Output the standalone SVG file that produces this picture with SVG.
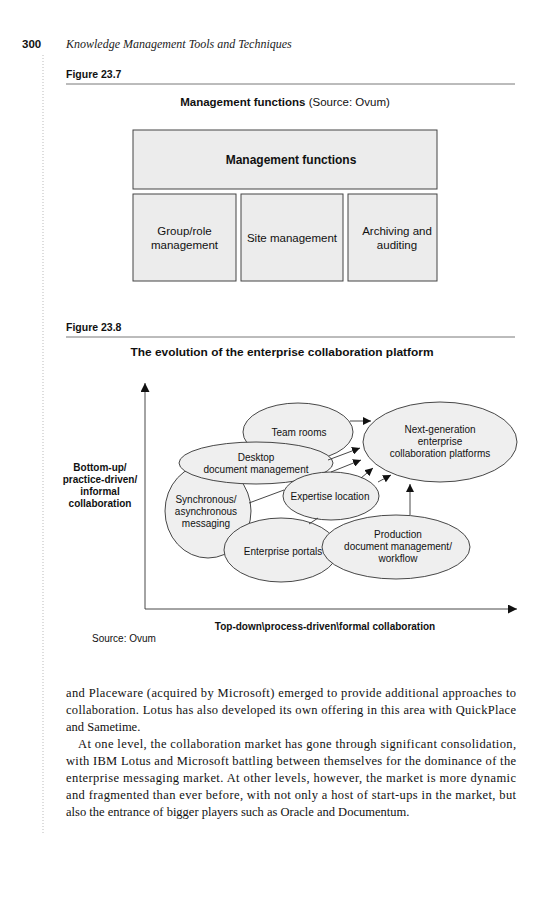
<svg xmlns="http://www.w3.org/2000/svg" width="552" height="900" viewBox="0 0 552 900">
<defs>
<style>
.s{font-family:"Liberation Sans",Arial,sans-serif;fill:#111}
.b{font-weight:bold}
.r{font-family:"Liberation Serif","Times New Roman",serif;fill:#111;font-size:12.5px}
.box{fill:#ececec;stroke:#444;stroke-width:1}
.el{fill:#efefef;stroke:#333;stroke-width:0.9}
.ln{stroke:#333;stroke-width:0.9;fill:none}
.c{text-anchor:middle}
</style>
<marker id="ah" viewBox="0 0 10 10" refX="10" refY="5" markerWidth="8" markerHeight="8" markerUnits="userSpaceOnUse" orient="auto">
<path d="M0,0 L10,5 L0,10 z" fill="#111"/>
</marker>
<marker id="ax" viewBox="0 0 10 10" refX="10" refY="5" markerWidth="9" markerHeight="9" markerUnits="userSpaceOnUse" orient="auto">
<path d="M0,0 L10,5 L0,10 z" fill="#111"/>
</marker>
</defs>
<rect width="552" height="900" fill="#fff"/>
<line x1="43" y1="55" x2="43" y2="835" stroke="#bbb" stroke-width="1" stroke-dasharray="1,2"/>
<text class="s b" x="22" y="48" font-size="11.5">300</text>
<text x="66" y="48" font-family="'Liberation Serif',serif" font-style="italic" font-size="12" fill="#222">Knowledge Management Tools and Techniques</text>

<text class="s b" x="66" y="78" font-size="10.5">Figure 23.7</text>
<line x1="66" y1="84" x2="515" y2="84" stroke="#555" stroke-width="0.8"/>
<text class="s c" x="285" y="106" font-size="11.5"><tspan class="b">Management functions</tspan> (Source: Ovum)</text>

<g id="mgmt">
<rect class="box" x="133" y="130" width="304" height="59"/>
<text class="s b c" x="291" y="164" font-size="12">Management functions</text>
</g>
<g id="group">
<rect class="box" x="133" y="194" width="103" height="87"/>
<text class="s c" x="184.5" y="235" font-size="11.5">Group/role</text>
<text class="s c" x="184.5" y="249" font-size="11.5">management</text>
</g>
<g id="site">
<rect class="box" x="241" y="194" width="102" height="87"/>
<text class="s c" x="292" y="242" font-size="11.5">Site management</text>
</g>
<g id="archive">
<rect class="box" x="348" y="194" width="89" height="87"/>
<text class="s c" x="397" y="235" font-size="11.5">Archiving and</text>
<text class="s c" x="397" y="249" font-size="11.5">auditing</text>
</g>

<text class="s b" x="66" y="331" font-size="10.5">Figure 23.8</text>
<line x1="66" y1="337" x2="515" y2="337" stroke="#555" stroke-width="0.8"/>
<text class="s b c" x="282" y="356" font-size="11" textLength="303" lengthAdjust="spacingAndGlyphs">The evolution of the enterprise collaboration platform</text>

<g id="axes">
<line class="ln" x1="145" y1="609" x2="145" y2="383" marker-end="url(#ax)"/>
<line class="ln" x1="145" y1="609" x2="517" y2="609" marker-end="url(#ax)"/>
</g>
<g id="ylabel">
<text class="s b c" x="100" y="471" font-size="10">Bottom-up/</text>
<text class="s b c" x="100" y="483" font-size="10">practice-driven/</text>
<text class="s b c" x="100" y="495" font-size="10">informal</text>
<text class="s b c" x="100" y="507" font-size="10">collaboration</text>
</g>
<text class="s b c" x="325" y="630" font-size="10">Top-down\process-driven\formal collaboration</text>

<g id="teamrooms">
<ellipse class="el" cx="298" cy="432" rx="55" ry="29"/>
<text class="s c" x="299" y="436" font-size="10">Team rooms</text>
</g>
<g id="nextgen">
<ellipse class="el" cx="440" cy="442" rx="77" ry="40" fill="#e6e6e6"/>
<text class="s c" x="440" y="433" font-size="10">Next-generation</text>
<text class="s c" x="440" y="445" font-size="10">enterprise</text>
<text class="s c" x="440" y="457" font-size="10">collaboration platforms</text>
</g>
<g id="sync">
<ellipse class="el" cx="208" cy="511" rx="43" ry="47"/>
<text class="s c" x="206" y="503" font-size="10">Synchronous/</text>
<text class="s c" x="206" y="515" font-size="10">asynchronous</text>
<text class="s c" x="206" y="527" font-size="10">messaging</text>
</g>
<g id="desktop">
<ellipse class="el" cx="256" cy="463" rx="77" ry="21"/>
<text class="s c" x="256" y="461" font-size="10">Desktop</text>
<text class="s c" x="256" y="473" font-size="10">document management</text>
</g>
<g id="expertise">
<ellipse class="el" cx="331" cy="496" rx="48" ry="24"/>
<text class="s c" x="330" y="500" font-size="10">Expertise location</text>
</g>
<g id="portals">
<ellipse class="el" cx="281" cy="550" rx="57" ry="32"/>
<text class="s c" x="283" y="555" font-size="10">Enterprise portals</text>
</g>
<g id="production">
<ellipse class="el" cx="396" cy="547" rx="74" ry="32"/>
<text class="s c" x="398" y="538" font-size="10">Production</text>
<text class="s c" x="398" y="550" font-size="10">document management/</text>
<text class="s c" x="398" y="562" font-size="10">workflow</text>
</g>

<g id="connectors">
<line class="ln" x1="249" y1="503" x2="284" y2="490"/>
<line class="ln" x1="309" y1="524" x2="318" y2="518"/>
<line class="ln" x1="350" y1="421" x2="371" y2="421" marker-end="url(#ah)"/>
<line class="ln" x1="328" y1="460" x2="360" y2="448" marker-end="url(#ah)"/>
<line class="ln" x1="331" y1="472" x2="361" y2="460" marker-end="url(#ah)"/>
<line class="ln" x1="361" y1="478" x2="373" y2="468" marker-end="url(#ah)"/>
<line class="ln" x1="378" y1="482" x2="391" y2="475" marker-end="url(#ah)"/>
<line class="ln" x1="410" y1="515" x2="410" y2="484" marker-end="url(#ah)"/>
</g>

<text class="s" x="92" y="642" font-size="10">Source: Ovum</text>

<g id="body">
<text class="r" x="66" y="697" textLength="450" lengthAdjust="spacing">and Placeware (acquired by Microsoft) emerged to provide additional approaches to</text>
<text class="r" x="66" y="714" textLength="450" lengthAdjust="spacing">collaboration. Lotus has also developed its own offering in this area with QuickPlace</text>
<text class="r" x="66" y="731">and Sametime.</text>
<text class="r" x="78" y="748" textLength="438" lengthAdjust="spacing">At one level, the collaboration market has gone through significant consolidation,</text>
<text class="r" x="66" y="765" textLength="450" lengthAdjust="spacing">with IBM Lotus and Microsoft battling between themselves for the dominance of the</text>
<text class="r" x="66" y="782" textLength="450" lengthAdjust="spacing">enterprise messaging market. At other levels, however, the market is more dynamic</text>
<text class="r" x="66" y="799" textLength="450" lengthAdjust="spacing">and fragmented than ever before, with not only a host of start-ups in the market, but</text>
<text class="r" x="66" y="816">also the entrance of bigger players such as Oracle and Documentum.</text>
</g>
</svg>
